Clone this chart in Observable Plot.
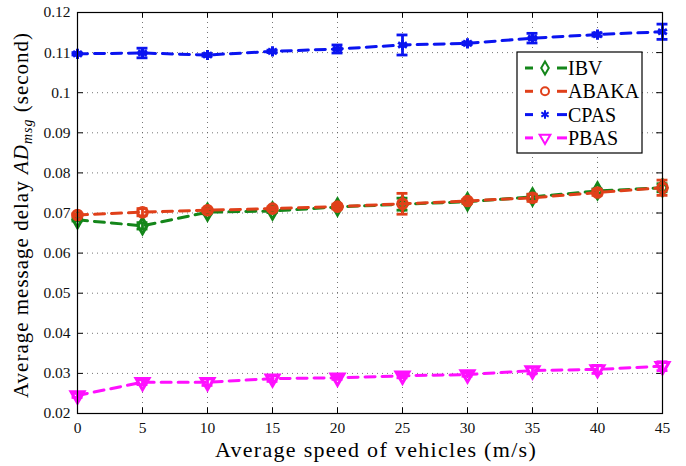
<!DOCTYPE html>
<html>
<head>
<meta charset="utf-8">
<script src="https://cdn.jsdelivr.net/npm/d3@7"></script>
<script src="https://cdn.jsdelivr.net/npm/@observablehq/plot@0.6"></script>
<style>
  html, body { margin: 0; padding: 0; background: #fff; }
  #chart { width: 686px; height: 466px; }
  #chart svg, #chart svg text { font-family: "Liberation Serif", "Times New Roman", serif !important; }
</style>
</head>
<body>
<div id="chart"></div>
<script>
// ---- data ----
const speeds = [0, 5, 10, 15, 20, 25, 30, 35, 40, 45];
const xTicks = [0, 5, 10, 15, 20, 25, 30, 35, 40, 45];
const yTicks = [0.02, 0.03, 0.04, 0.05, 0.06, 0.07, 0.08, 0.09, 0.1, 0.11, 0.12];
const yTickLabels = ["0.02", "0.03", "0.04", "0.05", "0.06", "0.07", "0.08", "0.09", "0.1", "0.11", "0.12"];

const ibv      = [0.0683, 0.0668, 0.0702, 0.0705, 0.0715, 0.0722, 0.0728, 0.0740, 0.0755, 0.0763];
const ibvErr   = [0.0003, 0.0008, 0.0004, 0.0004, 0.0004, 0.0015, 0.0004, 0.0006, 0.0005, 0.0010];
const abaka    = [0.0695, 0.0702, 0.0707, 0.0711, 0.0716, 0.0723, 0.0730, 0.0738, 0.0751, 0.0763];
const abakaErr = [0.0003, 0.0009, 0.0004, 0.0004, 0.0006, 0.0026, 0.0004, 0.0009, 0.0007, 0.0019];
const cpas     = [0.1097, 0.1099, 0.1094, 0.1103, 0.1109, 0.1119, 0.1123, 0.1136, 0.1145, 0.1152];
const cpasErr  = [0.0003, 0.0012, 0.0003, 0.0003, 0.0010, 0.0025, 0.0003, 0.0012, 0.0004, 0.0019];
const pbas     = [0.0245, 0.0278, 0.0278, 0.0287, 0.0289, 0.0294, 0.0297, 0.0307, 0.0310, 0.0318];
const pbasErr  = [0.0005, 0.0006, 0.0008, 0.0007, 0.0004, 0.0005, 0.0004, 0.0008, 0.0010, 0.0011];

const seriesNames  = ["IBV", "ABAKA", "CPAS", "PBAS"];
const seriesColors = ["#14861a", "#e0401a", "#0a14f0", "#ff10ff"];

// ---- build table ----
const seriesDefs = [
  {name: "IBV",   values: ibv,   errs: ibvErr,   color: seriesColors[0], symbol: "diamond",  rotate: 0},
  {name: "ABAKA", values: abaka, errs: abakaErr, color: seriesColors[1], symbol: "circle",   rotate: 0},
  {name: "CPAS",  values: cpas,  errs: cpasErr,  color: seriesColors[2], symbol: "asterisk", rotate: 0},
  {name: "PBAS",  values: pbas,  errs: pbasErr,  color: seriesColors[3], symbol: "triangle", rotate: 180}
];

const W = 686, H = 466;
const margin = {top: 12, right: 24, bottom: 53, left: 77};
const capHalf = 0.42;     // error-bar cap half-width in x units
const tickLenX = 0.45;    // inward tick length (x units)
const tickLenY = 0.0014;  // inward tick length (y units)

const marks = [];
// grid
marks.push(Plot.ruleY(yTicks.slice(1, -1), {stroke: "#555", strokeWidth: 1, strokeDasharray: "1,4", strokeOpacity: 0.8}));
marks.push(Plot.ruleX(xTicks.slice(1, -1), {stroke: "#555", strokeWidth: 1, strokeDasharray: "1,4", strokeOpacity: 0.8}));
// inward ticks on all four sides
marks.push(Plot.ruleY(yTicks, {y: d => d, x1: 0, x2: tickLenX, stroke: "#000"}));
marks.push(Plot.ruleY(yTicks, {y: d => d, x1: 45 - tickLenX, x2: 45, stroke: "#000"}));
marks.push(Plot.ruleX(xTicks, {x: d => d, y1: 0.02, y2: 0.02 + tickLenY, stroke: "#000"}));
marks.push(Plot.ruleX(xTicks, {x: d => d, y1: 0.12 - tickLenY, y2: 0.12, stroke: "#000"}));

for (const s of seriesDefs) {
  const rows = speeds.map((x, i) => ({x, y: s.values[i], lo: s.values[i] - s.errs[i], hi: s.values[i] + s.errs[i]}));
  marks.push(Plot.line(rows, {x: "x", y: "y", stroke: s.color, strokeWidth: 3, strokeDasharray: "10,7"}));
  marks.push(Plot.ruleX(rows, {x: "x", y1: "lo", y2: "hi", stroke: s.color, strokeWidth: 2.8}));
  marks.push(Plot.ruleY(rows, {y: "lo", x1: d => d.x - capHalf, x2: d => d.x + capHalf, stroke: s.color, strokeWidth: 2.8}));
  marks.push(Plot.ruleY(rows, {y: "hi", x1: d => d.x - capHalf, x2: d => d.x + capHalf, stroke: s.color, strokeWidth: 2.8}));
  marks.push(Plot.dot(rows, {x: "x", y: "y", symbol: s.symbol, rotate: s.rotate, r: 4.8, stroke: s.color, strokeWidth: 3, fill: "none"}));
}
marks.push(Plot.frame({stroke: "#000", strokeWidth: 1.2}));

const plot = Plot.plot({
  width: W, height: H,
  marginTop: margin.top, marginRight: margin.right, marginBottom: margin.bottom, marginLeft: margin.left,
  style: {fontSize: "15px", background: "#fff", color: "#000"},
  x: {domain: [0, 45], ticks: xTicks, tickSize: 0, tickPadding: 8, label: null, tickFormat: d => String(d)},
  y: {domain: [0.02, 0.12], ticks: yTicks, tickSize: 0, tickPadding: 7, label: null,
      tickFormat: d => yTickLabels[yTicks.findIndex(t => Math.abs(t - d) < 1e-9)]},
  marks
});
document.getElementById("chart").appendChild(plot);

const svg = d3.select(plot);
svg.selectAll("[aria-label='x-axis tick label'] text, [aria-label='y-axis tick label'] text")
  .style("font-size", "15.5px").attr("fill", "#111");

// x label
svg.append("text")
  .attr("x", 376).attr("y", 457)
  .attr("text-anchor", "middle")
  .style("font-size", "22px")
  .style("letter-spacing", "1.3px")
  .text("Average speed of vehicles (m/s)");

// y label with italic AD and subscript msg
const yl = svg.append("text")
  .attr("transform", "translate(28,215) rotate(-90)")
  .attr("text-anchor", "middle")
  .style("font-size", "21px")
  .style("letter-spacing", "1px");
yl.append("tspan").text("Average message delay ");
yl.append("tspan").style("font-style", "italic").text("AD");
yl.append("tspan").style("font-style", "italic").style("font-size", "14px").attr("dy", "4").text("msg");
yl.append("tspan").attr("dy", "-4").text(" (second)");

// legend
const lg = svg.append("g").attr("transform", "translate(517,52)");
lg.append("rect").attr("width", 125).attr("height", 101).attr("fill", "#fff").attr("stroke", "#000").attr("stroke-width", 1.2);
const symMap = {diamond: d3.symbolDiamond, circle: d3.symbolCircle, asterisk: d3.symbolAsterisk, triangle: d3.symbolTriangle};
seriesDefs.forEach((s, i) => {
  const yy = 16 + i * 23.3;
  const g = lg.append("g").attr("transform", `translate(0,${yy})`);
  g.append("line").attr("x1", 8).attr("x2", 16).attr("y1", 0).attr("y2", 0)
    .attr("stroke", s.color).attr("stroke-width", 3);
  g.append("line").attr("x1", 40).attr("x2", 50).attr("y1", 0).attr("y2", 0)
    .attr("stroke", s.color).attr("stroke-width", 3);
  g.append("path").attr("d", d3.symbol(symMap[s.symbol], 50)())
    .attr("transform", `translate(28,0) rotate(${s.rotate})`)
    .attr("fill", "none").attr("stroke", s.color).attr("stroke-width", 2);
  g.append("text").attr("x", 51).attr("y", 0).attr("dy", "0.35em")
    .attr("text-anchor", "start")
    .style("font-size", "20px")
    .text(seriesNames[i]);
});
</script>
</body>
</html>
